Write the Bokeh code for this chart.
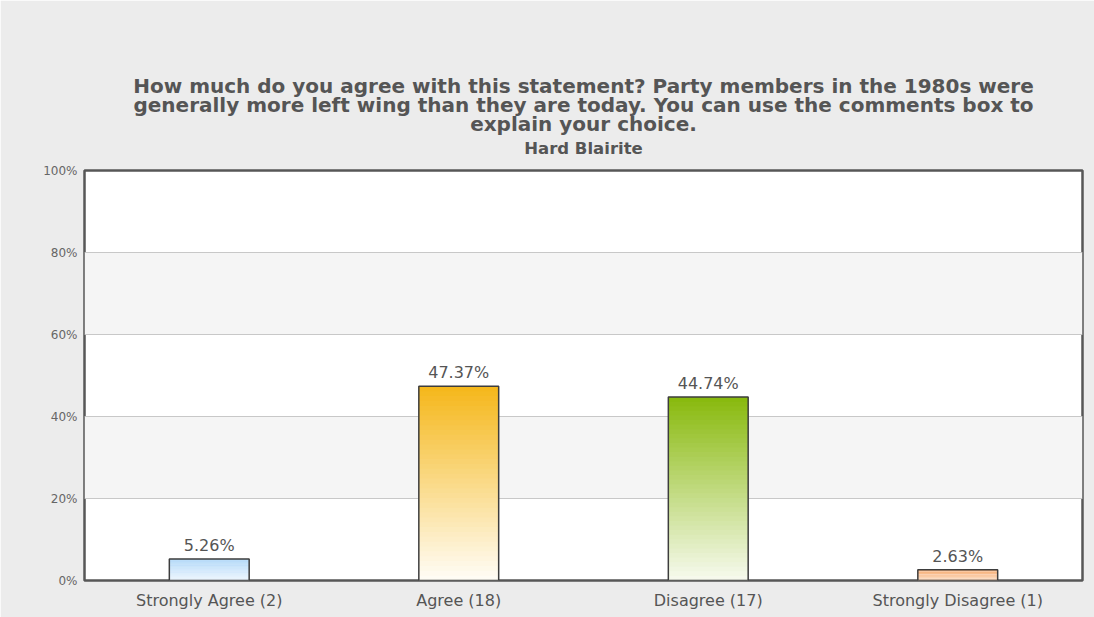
from bokeh.plotting import figure
from bokeh.models import (FactorRange, Range1d, FixedTicker, LabelSet,
                          ColumnDataSource, Title, PrintfTickFormatter)
from bokeh.core.properties import value
from bokeh.embed import file_html
from bokeh.resources import INLINE

# ---- data ----
categories = ["Strongly Agree", "Agree", "Disagree", "Strongly Disagree"]
counts = [2, 18, 17, 1]
percentages = [5.26, 47.37, 44.74, 2.63]
y_ticks = [0, 20, 40, 60, 80, 100]
title_lines = [
    "How much do you agree with this statement? Party members in the 1980s were",
    "generally more left wing than they are today. You can use the comments box to",
    "explain your choice.",
]
subtitle = "Hard Blairite"

# ---- styles ----
top_colors = ["#afd7f8", "#f5b71a", "#88b90c", "#f6a466"]
bottom_colors = ["#eef6fe", "#fffdf7", "#f7faef", "#fcdcc2"]
FONT = "DejaVu Sans"
TXT = "#555555"

labels = [f"{c} ({n})" for c, n in zip(categories, counts)]


def hex2rgb(h):
    h = h.lstrip("#")
    return tuple(int(h[i:i + 2], 16) for i in (0, 2, 4))


def mix(c1, c2, t):
    a, b = hex2rgb(c1), hex2rgb(c2)
    return "#%02x%02x%02x" % tuple(round(a[i] + (b[i] - a[i]) * t) for i in range(3))


# gradient slices for each bar (bottom -> top)
N = 40
gx, gb, gt, gc = [], [], [], []
for lab, v, ct, cb in zip(labels, percentages, top_colors, bottom_colors):
    for k in range(N):
        gx.append(lab)
        gb.append(v * k / N)
        gt.append(min(v, v * (k + 1.6) / N))
        gc.append(mix(cb, ct, (k + 0.5) / N))

p = figure(
    x_range=FactorRange(*labels, range_padding=0),
    y_range=Range1d(0, 100),
    width=1094, height=617,
    output_backend="svg", toolbar_location=None,
    min_border_left=84, min_border_right=12,
    min_border_top=170, min_border_bottom=37,
)
p.border_fill_color = "#ececec"
p.background_fill_color = "white"
p.outline_line_color = "#575757"
p.outline_line_width = 2.5

# grid
p.xgrid.grid_line_color = None
p.ygrid.ticker = FixedTicker(ticks=y_ticks)
p.ygrid.grid_line_color = "#c8c8c8"
p.ygrid.grid_line_width = 1
p.ygrid.band_fill_color = "#f5f5f5"
p.ygrid.band_fill_alpha = 1.0

# bars
p.vbar(x=gx, bottom=gb, top=gt, width=0.32, fill_color=gc, line_color=None)
p.vbar(x=labels, top=percentages, width=0.32, fill_color=None,
       line_color="#3d3d3d", line_width=1.5)

src = ColumnDataSource(dict(x=labels, y=percentages,
                            t=[f"{v:.2f}%" for v in percentages]))
p.add_layout(LabelSet(x="x", y="y", text="t", source=src, y_offset=4,
                      text_align="center", text_baseline="bottom",
                      text_font=value(FONT), text_font_size="16px", text_color=TXT,
                      background_fill_color="white", background_fill_alpha=0.6))

# axes
p.yaxis.ticker = FixedTicker(ticks=y_ticks)
p.yaxis.formatter = PrintfTickFormatter(format="%d%%")
for ax in (p.xaxis, p.yaxis):
    ax.axis_line_color = None
    ax.major_tick_line_color = None
    ax.minor_tick_line_color = None
    ax.major_label_text_font = FONT
    ax.major_label_text_color = "#666666"
p.yaxis.major_label_text_font_size = "12px"
p.yaxis.major_label_standoff = 1
p.xaxis.major_label_text_font_size = "16px"
p.xaxis.major_label_text_color = TXT
p.xaxis.major_label_standoff = 4

# titles (added bottom-up)
p.add_layout(Title(text=subtitle, align="center", text_font=FONT,
                   text_font_size="16.5px", text_font_style="bold",
                   text_color=TXT, standoff=26), "above")
for line, so in zip(reversed(title_lines), [-25, 11, -25]):
    p.add_layout(Title(text=line, align="center", text_font=FONT,
                       text_font_size="20px", text_font_style="bold",
                       text_color=TXT, standoff=so), "above")

open("out.html", "w").write(file_html(p, INLINE))
